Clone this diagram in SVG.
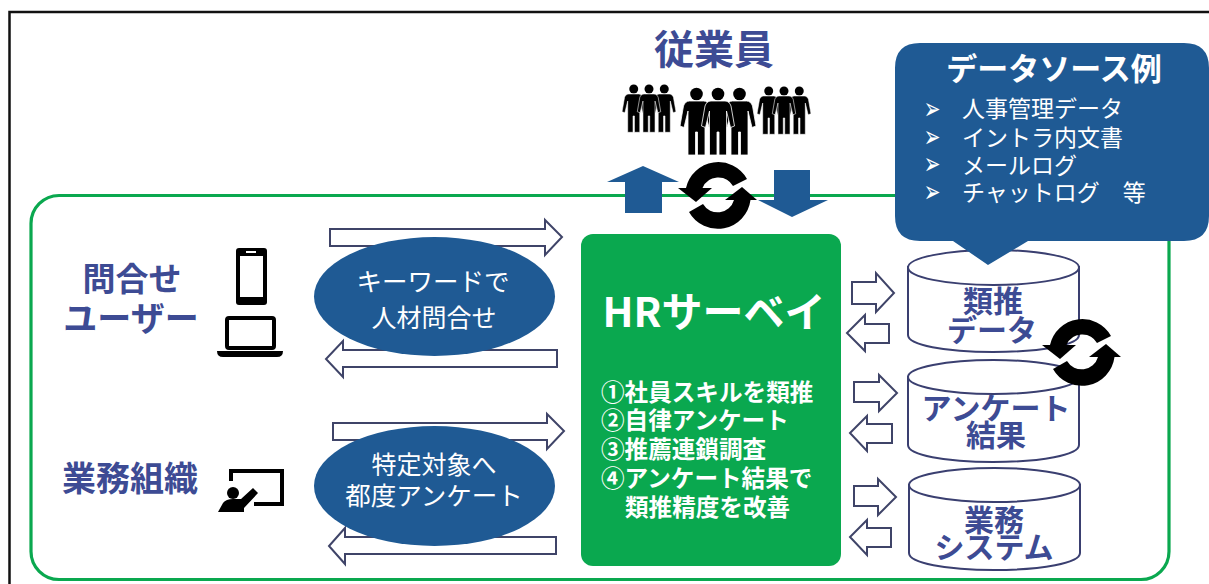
<svg xmlns="http://www.w3.org/2000/svg" width="1209" height="584" viewBox="0 0 1209 584">
<style>
text{font-family:"Noto Sans CJK JP","Noto Sans",sans-serif;text-anchor:middle}
.nv{fill:#3d4b94;font-weight:700}
.w{fill:#fff}
.b{font-weight:700}
.st{text-anchor:start;font-size:23.600px}
.ar{fill:#fff;stroke:#3f4468;stroke-width:2}
.bl{fill:#1f5a94}
.cy{fill:#fff;stroke:#3a3f70;stroke-width:2}
.li{text-anchor:start;font-size:23px;fill:#fff}
.bu{font-family:"DejaVu Sans",sans-serif;font-size:20px;font-weight:700;fill:#fff}
</style>
<defs>
<g id="person"><circle cx="0" cy="0" r="6.300"/><path d="M-7 7H7C10 7 12 9 13 12L16.500 32L12.500 33.500L8.500 17V61H1V38H-1V61H-8.500V17L-12.500 33.500L-16.500 32L-13 12C-12 9-10 7-7 7Z" stroke="#fff" stroke-width=".8"/></g>
<g id="crowd"><use href="#person" x="-21.500"/><use href="#person" x="21.500"/><use href="#person"/></g>
<g id="sync"><path d="M-32 -7A33 33 0 0 1 29 -16L15 -9A17 17 0 0 0 -15.500 -7Z"/><path d="M-40 -7H-6L-22 7Z"/><path d="M32.500 5A33 33 0 0 1 -29 17L-15 9A17 17 0 0 0 16 5Z"/><path d="M39 5H7L24 -8Z"/></g>
</defs>
<rect x="0" y="0" width="1209" height="584" fill="#fff"/>
<path d="M9.500 584V12H1209" fill="none" stroke="#111" stroke-width="2.500"/>
<rect x="31" y="195.500" width="1138" height="384" rx="28" fill="none" stroke="#0aa84f" stroke-width="3.200"/>
<g id="employee"><text class="nv" x="714" y="64" font-size="40">従業員</text>
<use href="#crowd" transform="translate(649,89) scale(.71)"/><use href="#crowd" transform="translate(718,94)"/><use href="#crowd" transform="translate(784,91) scale(.71)"/></g>
<g id="connectors">
<path class="bl" d="M643 166L679 182H662V213H625V182H607Z"/>
<path class="bl" d="M774 170H810V200H828L792 217L758 200H774Z"/>
<path class="ar" d="M330 229H545V220L562 237L545 255V246H330Z"/>
<path class="ar" d="M557 350H343V341L326 359L343 377V367H557Z"/>
<path class="ar" d="M333 423H547V414L564 431L547 449V440H333Z"/>
<path class="ar" d="M556 537H345V528L329 546L345 564V554H556Z"/>
<path class="ar" d="M852 282H876V273L894 293L876 312V304H852Z"/>
<path class="ar" d="M889 324H865V315L847 333L865 351V343H889Z"/>
<path class="ar" d="M854 382H879V375L897 393L879 411V402H854Z"/>
<path class="ar" d="M892 424H867V416L850 433L867 451V443H892Z"/>
<path class="ar" d="M854 486H878V479L896 497L878 515V506H854Z"/>
<path class="ar" d="M891 528H867V520L850 537L867 555V547H891Z"/>
</g>
<g id="inquiry-user"><text class="nv" x="132" y="291" font-size="33">問合せ</text><text class="nv" x="131" y="331" font-size="34">ユーザー</text>
<rect x="236" y="248" width="31" height="57" rx="3"/><rect x="240" y="256" width="23" height="41" fill="#fff"/><rect x="246" y="251" width="10" height="2" fill="#fff"/>
<rect x="227" y="318" width="47" height="30" fill="#fff" stroke="#000" stroke-width="4" rx="2"/><path d="M217 351H283Q283 357 277 357H223Q217 357 217 351Z"/></g>
<g id="org"><text class="nv" x="130" y="491" font-size="34">業務組織</text>
<path d="M231 481V471H282V504H254" fill="none" stroke="#000" stroke-width="4"/><circle cx="233" cy="493" r="6"/><path d="M218 512L223 503Q226 499 233 499H241L253 488L258 493L244 508V512Z"/></g>
<g id="query"><ellipse class="bl" cx="434.500" cy="296.500" rx="120.500" ry="59.500"/><text class="w" x="433" y="291" font-size="25.500">キーワードで</text><text class="w" x="434" y="327" font-size="25">人材問合せ</text></g>
<g id="survey"><ellipse class="bl" cx="434.500" cy="486" rx="120.500" ry="60"/><text class="w" x="434" y="474" font-size="25">特定対象へ</text><text class="w" x="434" y="505" font-size="25.500">都度アンケート</text></g>
<g id="hr"><rect x="581" y="234" width="260" height="332" rx="12" fill="#0aa84f"/>
<text class="w b" x="714" y="327" font-size="41">HRサーベイ</text>
<text class="w b st" x="601" y="401">①社員スキルを類推</text><text class="w b st" x="601" y="429">②自律アンケート</text><text class="w b st" x="601" y="458">③推薦連鎖調査</text><text class="w b st" x="601" y="487">④アンケート結果で</text><text class="w b st" x="625" y="516">類推精度を改善</text></g>
<g id="db1"><path class="cy" d="M908 267V335C908 345 945 352 993 352S1079 345 1079 335V267Z"/><ellipse class="cy" cx="993.500" cy="267.500" rx="85.500" ry="17.500"/><text class="nv" x="993" y="312" font-size="30">類推</text><text class="nv" x="992" y="341" font-size="30">データ</text></g>
<g id="db2"><path class="cy" d="M908 377V445C908 455 945 462 993 462S1079 455 1079 445V377Z"/><ellipse class="cy" cx="993.500" cy="377" rx="85.500" ry="17"/><text class="nv" x="996" y="419" font-size="30">アンケート</text><text class="nv" x="996" y="446" font-size="30">結果</text></g>
<g id="db3"><path class="cy" d="M909 485V553C909 563 946 570 994 570S1080 563 1080 553V485Z"/><ellipse class="cy" cx="994.500" cy="485" rx="85.500" ry="17"/><text class="nv" x="994" y="531" font-size="30">業務</text><text class="nv" x="994" y="558" font-size="30">システム</text></g>
<use href="#sync" x="718" y="195"/><use href="#sync" x="1082" y="352"/>
<g id="sources"><path class="bl" d="M920 43H1184Q1209 43 1209 68V216Q1209 241 1184 241H1028L988 265L953 241H920Q895 241 895 216V68Q895 43 920 43Z"/>
<text class="w b" x="1054" y="80" font-size="31">データソース例</text>
<text class="bu" transform="translate(932,119) scale(1,1.500)">➢</text><text class="bu" transform="translate(932,147) scale(1,1.500)">➢</text><text class="bu" transform="translate(932,174) scale(1,1.500)">➢</text><text class="bu" transform="translate(932,202) scale(1,1.500)">➢</text>
<text class="li" x="962" y="117">人事管理データ</text><text class="li" x="962" y="146">イントラ内文書</text><text class="li" x="962" y="174">メールログ</text><text class="li" x="962" y="201">チャットログ　等</text></g>
</svg>
